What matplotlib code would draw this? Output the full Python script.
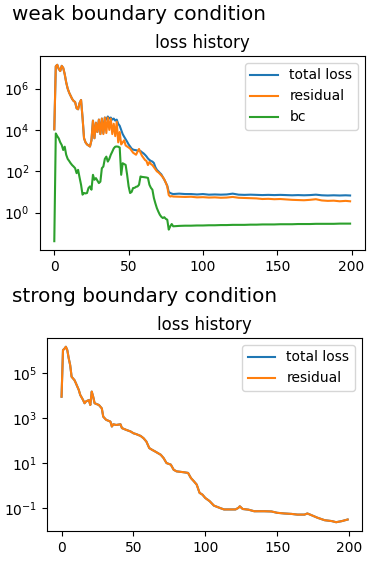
import numpy as np
import matplotlib
matplotlib.use("Agg")
import matplotlib.pyplot as plt

# ---------------- weak boundary condition (log10 of loss values) ----------------
weak_steps = list(range(0, 81)) + list(range(84, 200, 4)) + [199]

weak_residual_log10 = [
    4.03, 7.08, 7.15, 6.95, 6.85, 7.10, 7.00, 6.70, 6.30, 6.00,
    5.80, 5.65, 5.50, 5.40, 5.35, 5.05, 5.00, 5.30, 5.45, 4.60,
    3.60, 3.40, 3.30, 3.25, 3.20, 3.50, 4.45, 3.60, 4.35, 3.90,
    4.50, 3.80, 4.55, 3.80, 4.60, 3.85, 4.60, 4.00, 4.55, 3.80,
    4.30, 3.70, 4.40, 3.40, 3.90, 3.30, 3.40, 3.50, 3.25, 3.20,
    3.15, 3.10, 3.00, 2.90, 2.85, 2.80, 2.95, 3.08, 2.90, 2.75,
    2.65, 2.55, 2.50, 2.30, 2.45, 2.35, 2.30, 2.20, 2.10, 2.00,
    1.95, 1.88, 1.80, 1.72, 1.60, 1.45, 1.27, 0.85, 0.78, 0.80,
    0.78,
    0.77, 0.76, 0.77, 0.74, 0.75, 0.73, 0.74, 0.72, 0.73, 0.76,
    0.72, 0.71, 0.70, 0.69, 0.66, 0.67, 0.65, 0.66, 0.64, 0.62,
    0.61, 0.60, 0.62, 0.65, 0.59, 0.57, 0.58, 0.55, 0.57, 0.55,
]

weak_total_log10 = [
    4.03, 7.08, 7.15, 6.95, 6.85, 7.10, 7.00, 6.70, 6.30, 6.00,
    5.80, 5.65, 5.50, 5.40, 5.35, 5.05, 5.00, 5.30, 5.45, 4.60,
    3.60, 3.40, 3.30, 3.25, 3.20, 3.50, 4.45, 3.60, 4.35, 3.90,
    4.50, 3.80, 4.55, 3.85, 4.60, 4.50, 4.65, 4.55, 4.60, 4.50,
    4.55, 4.45, 4.50, 4.30, 4.20, 4.00, 3.80, 3.67, 3.55, 3.43,
    3.30, 3.20, 3.10, 3.05, 3.03, 3.02, 3.00, 3.00, 2.98, 2.92,
    2.87, 2.80, 2.72, 2.62, 2.55, 2.50, 2.47, 2.40, 2.20, 2.07,
    2.00, 1.92, 1.85, 1.72, 1.60, 1.45, 1.30, 1.00, 0.95, 0.92,
    0.90,
    0.92, 0.90, 0.90, 0.88, 0.90, 0.87, 0.88, 0.87, 0.88, 0.92,
    0.87, 0.86, 0.87, 0.86, 0.85, 0.86, 0.85, 0.86, 0.85, 0.84,
    0.85, 0.84, 0.85, 0.87, 0.84, 0.83, 0.84, 0.83, 0.84, 0.83,
]

weak_bc_log10 = [
    -1.38, 3.83, 3.70, 3.59, 3.40, 3.27, 3.03, 3.19, 2.80, 2.60,
    2.50, 2.39, 2.30, 2.23, 2.15, 1.91, 2.07, 1.70, 1.35, 0.87,
    0.95, 0.93, 0.95, 1.19, 1.27, 1.11, 1.83, 1.59, 1.67, 1.55,
    1.43, 1.50, 2.15, 2.23, 2.60, 2.71, 2.47, 2.60, 2.80, 2.95,
    3.11, 3.19, 3.20, 3.19, 3.15, 1.83, 2.39, 2.35, 2.31, 1.83,
    1.27, 0.95, 1.00, 1.19, 1.20, 1.25, 1.27, 1.35, 1.75, 1.73,
    1.72, 1.71, 1.70, 1.68, 1.35, 1.20, 1.11, 0.71, 0.45, 0.22,
    0.05, -0.10, -0.20, -0.26, -0.22, -0.30, -0.34, -0.82, -0.66, -0.55,
    -0.66,
    -0.64, -0.63, -0.63, -0.62, -0.62, -0.61, -0.61, -0.60, -0.60, -0.59,
    -0.59, -0.59, -0.58, -0.58, -0.57, -0.57, -0.57, -0.56, -0.56, -0.56,
    -0.55, -0.55, -0.55, -0.54, -0.54, -0.54, -0.54, -0.53, -0.53, -0.53,
]

# ---------------- strong boundary condition ----------------
strong_steps = [
    0, 1, 2, 3, 4, 5, 6, 7, 9, 10, 12, 13, 15, 16, 17, 19, 20, 21, 22, 23,
    26, 28, 29, 31, 34, 35, 36, 38, 41, 42, 45, 48, 50, 52, 55, 57, 59, 61,
    63, 65, 69, 71, 73, 76, 78, 80, 85, 88, 90, 92, 94, 96, 98, 100, 103,
    106, 110, 113, 118, 121, 123, 124, 126, 130, 134, 141, 146, 150, 155,
    160, 164, 169, 171, 174, 178, 183, 188, 191, 195, 199,
]
strong_residual_log10 = [
    3.96, 6.04, 6.10, 6.19, 6.04, 5.67, 5.37, 4.85, 4.70, 4.56, 4.26, 4.04,
    3.81, 3.67, 3.75, 3.81, 3.59, 4.19, 3.96, 3.67,
    3.59, 3.44, 3.07, 2.93, 2.85, 2.63, 2.73, 2.70, 2.73, 2.56, 2.48, 2.41,
    2.33, 2.29, 2.21, 2.11, 1.96, 1.67,
    1.59, 1.52, 1.37, 1.22, 1.00, 0.93, 0.70, 0.63, 0.59, 0.56, 0.33, 0.19,
    0.04, -0.33, -0.41, -0.56, -0.70,
    -0.90, -1.00, -1.07, -1.07, -1.07, -1.00, -0.93, -1.05, -1.08, -1.15,
    -1.15, -1.16, -1.22, -1.25,
    -1.27, -1.30, -1.30, -1.25, -1.33, -1.44, -1.55, -1.59, -1.64, -1.59, -1.52,
]
strong_total_log10 = list(strong_residual_log10)

fig = plt.figure(figsize=(3.81, 5.65), dpi=100)

# top panel
fig.text(0.031, 0.975, "weak boundary condition", ha="left", va="center", fontsize=14.4)
ax1 = fig.add_axes([0.1037, 0.5575, 0.854, 0.3434])
ax1.plot(weak_steps, 10 ** np.array(weak_total_log10), label="total loss")
ax1.plot(weak_steps, 10 ** np.array(weak_residual_log10), label="residual")
ax1.plot(weak_steps, 10 ** np.array(weak_bc_log10), label="bc")
ax1.set_yscale("log")
ax1.set_title("loss history")
ax1.set_xticks([0, 50, 100, 150, 200])
ax1.legend(loc="upper right")

# bottom panel
fig.text(0.031, 0.476, "strong boundary condition", ha="left", va="center", fontsize=14.4)
ax2 = fig.add_axes([0.124, 0.0602, 0.826, 0.3416])
ax2.plot(strong_steps, 10 ** np.array(strong_total_log10), label="total loss")
ax2.plot(strong_steps, 10 ** np.array(strong_residual_log10), label="residual")
ax2.set_yscale("log")
ax2.set_title("loss history")
ax2.set_xticks([0, 50, 100, 150, 200])
ax2.set_yticks([1e-1, 1e1, 1e3, 1e5])
ax2.legend(loc="upper right")

fig.savefig("out.png", dpi=100)
